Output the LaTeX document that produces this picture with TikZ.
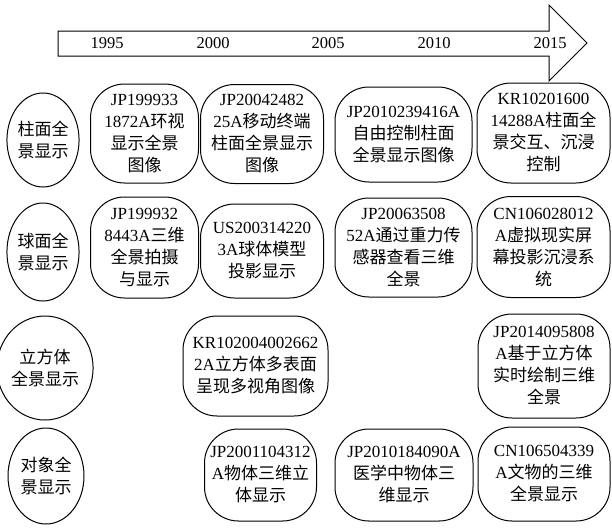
\documentclass[tikz,border=0pt]{standalone}
\usepackage{fontspec}
\setmainfont{Liberation Serif}
\newfontfamily\cjk{Noto Sans CJK SC}
\newcommand{\z}[1]{{\cjk #1}}
\usetikzlibrary{shapes.geometric}
\begin{document}
\begin{tikzpicture}[x=1pt,y=-1pt,
  every node/.style={font=\fontsize{17}{22}\selectfont, align=center, inner sep=0pt},
  pbox/.style={draw, line width=1pt, rounded corners=34pt},
  cat/.style={draw, ellipse, line width=1pt},
  yearlbl/.style={font=\fontsize{16.5}{19}\selectfont}]
\useasboundingbox (0,0) rectangle (612,528);
% timeline arrow
\draw[line width=1pt] (58,31) -- (549,31) -- (549,5) -- (587,43) -- (549,81) -- (549,56) -- (58,56) -- cycle;
\node[yearlbl] (y1995) at (107,43) {1995};
\node[yearlbl] (y2000) at (213,43) {2000};
\node[yearlbl] (y2005) at (328,43) {2005};
\node[yearlbl] (y2010) at (434,43) {2010};
\node[yearlbl] (y2015) at (550,43) {2015};
% row 1
\node[cat, minimum width=68pt, minimum height=94pt] (c1) at (43,140) {\z{柱面全}\\\z{景显示}};
\node[pbox, minimum width=108pt, minimum height=99pt] (a1) at (144.5,133.5) {JP199933\\1872A\z{环视}\\\z{显示全景}\\\z{图像}};
\node[pbox, minimum width=123pt, minimum height=99pt] (b1) at (262,134) {JP20042482\\25A\z{移动终端}\\\z{柱面全景显示}\\\z{图像}};
\node[pbox, minimum width=137pt, minimum height=95pt] (d1) at (403.5,134.5) {JP2010239416A\\\z{自由控制柱面}\\\z{全景显示图像}};
\node[pbox, minimum width=133pt, minimum height=100pt] (e1) at (543.5,133) {KR10201600\\14288A\z{柱面全}\\\z{景交互、沉浸}\\\z{控制}};
% row 2
\node[cat, minimum width=68pt, minimum height=98pt] (c2) at (43,252) {\z{球面全}\\\z{景显示}};
\node[pbox, minimum width=108pt, minimum height=101pt] (a2) at (144.5,247.5) {JP199932\\8443A\z{三维}\\\z{全景拍摄}\\\z{与显示}};
\node[pbox, minimum width=123pt, minimum height=94pt] (b2) at (262,251) {US200314220\\3A\z{球体模型}\\\z{投影显示}};
\node[pbox, minimum width=137pt, minimum height=99pt] (d2) at (403.5,247.5) {JP20063508\\52A\z{通过重力传}\\\z{感器查看三维}\\\z{全景}};
\node[pbox, minimum width=133pt, minimum height=101pt] (e2) at (543.5,247) {CN106028012\\A\z{虚拟现实屏}\\\z{幕投影沉浸系}\\\z{统}};
% row 3
\node[cat, minimum width=74pt, minimum height=104pt] (c3) at (45,368) {\z{立方体}\\\z{全景显示}};
\node[pbox, minimum width=145pt, minimum height=100pt] (b3) at (255.5,366) {KR102004002662\\2A\z{立方体多表面}\\\z{呈现多视角图像}};
\node[pbox, minimum width=132pt, minimum height=104pt] (e3) at (544,366) {JP2014095808\\A\z{基于立方体}\\\z{实时绘制三维}\\\z{全景}};
% row 4
\node[cat, minimum width=76pt, minimum height=96pt] (c4) at (46,476) {\z{对象全}\\\z{景显示}};
\node[pbox, minimum width=112pt, minimum height=92pt] (b4) at (260.5,475) {JP2001104312\\A\z{物体三维立}\\\z{体显示}};
\node[pbox, minimum width=138pt, minimum height=92pt] (d4) at (404,475) {JP2010184090A\\\z{医学中物体三}\\\z{维显示}};
\node[pbox, minimum width=132pt, minimum height=94pt] (e4) at (544,474) {CN106504339\\A\z{文物的三维}\\\z{全景显示}};
\end{tikzpicture}
\end{document}
